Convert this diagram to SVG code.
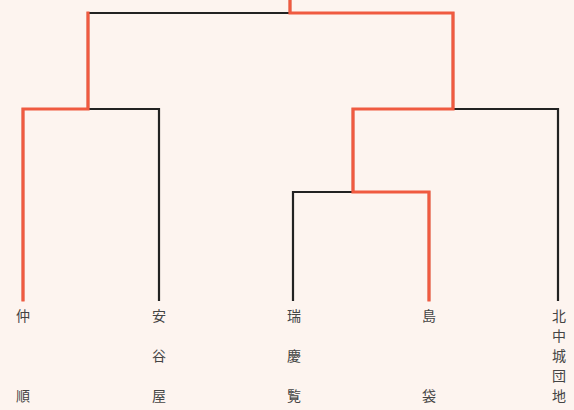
<svg xmlns="http://www.w3.org/2000/svg" width="574" height="410" viewBox="0 0 574 410">
<style>
.bg{fill:#fdf4ef}
.k{fill:none;stroke:#222;stroke-width:2.2;stroke-linecap:square}
.r{fill:none;stroke:#f05a40;stroke-width:3.2;stroke-linecap:square}
text{font-family:"Noto Sans CJK JP","Noto Sans CJK SC",sans-serif;font-size:14px;fill:#444;text-anchor:middle}
</style>
<rect class="bg" width="574" height="410"/>
<g id="connectors">
<path class="k" d="M290 0V13M88 13H453M88 13V109M453 13V109M23 109H159M23 109V300M159 109V300M353 109H558M558 109V300M353 109V192M293 192H429M293 192V300M429 192V300"/>
<path class="r" d="M290 0V13H453V109H353V192H429V300"/>
<path class="r" d="M88 13V109H23V300"/>
</g>
<g id="n1"><text x="23" y="321">仲</text><text x="23" y="401">順</text></g>
<g id="n2"><text x="159" y="321">安</text><text x="159" y="361">谷</text><text x="159" y="401">屋</text></g>
<g id="n3"><text x="294" y="321">瑞</text><text x="294" y="361">慶</text><text x="294" y="401">覧</text></g>
<g id="n4"><text x="429" y="321">島</text><text x="429" y="401">袋</text></g>
<g id="n5"><text x="559" y="321">北</text><text x="559" y="341">中</text><text x="559" y="361">城</text><text x="559" y="381">団</text><text x="559" y="401">地</text></g>
</svg>
